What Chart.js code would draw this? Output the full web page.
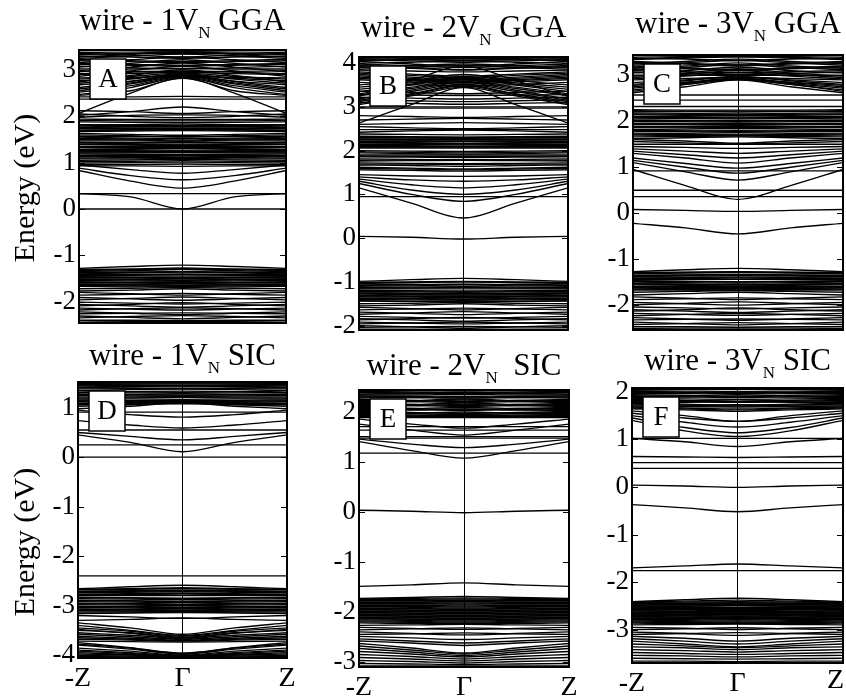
<!DOCTYPE html>
<html>
<head>
<meta charset="utf-8">
<script src="https://cdn.jsdelivr.net/npm/chart.js@4.4.1/dist/chart.umd.min.js"></script>
<style>
  html, body { margin: 0; padding: 0; background: #fff; overflow: hidden; }
  #wrap { position: relative; width: 846px; height: 697px; }
  #wrap canvas { position: absolute; }
</style>
</head>
<body>
<div id="wrap"></div>
<script>
// k-path: -Z -> Gamma -> Z
const kPoints = [-1, -0.5, 0, 0.5, 1];
const kLabels = { '-1': '-Z', '0': 'Γ', '1': 'Z' };

const titles = [
  ['wire - 1V', 'N', ' GGA'],
  ['wire - 2V', 'N', ' GGA'],
  ['wire - 3V', 'N', ' GGA'],
  ['wire - 1V', 'N', ' SIC'],
  ['wire - 2V', 'N', '  SIC'],
  ['wire - 3V', 'N', ' SIC']
];
const letters = ['A', 'B', 'C', 'D', 'E', 'F'];
const yLimits = [[-2.46, 3.43], [-2.1, 4.14], [-2.54, 3.44], [-4.06, 1.52], [-3.1, 2.43], [-3.7, 2.08]];

// each band: [E at Z, E halfway, E at Gamma] in eV (bands are symmetric about Gamma)
const bandsA = [
  [3.42, 3.41, 3.40], [3.38, 3.36, 3.35], [3.33, 3.36, 3.39], [3.30, 3.28, 3.25], [3.25, 3.30, 3.34],
  [3.20, 3.18, 3.16], [3.16, 3.22, 3.28], [3.12, 3.10, 3.08], [3.06, 3.14, 3.22], [3.02, 3.02, 3.03],
  [2.96, 3.06, 3.15], [2.92, 2.95, 2.98], [2.86, 2.98, 3.08], [2.80, 2.86, 2.93], [2.74, 2.88, 3.00],
  [2.68, 2.76, 2.88], [2.62, 2.75, 2.90], [2.55, 2.70, 2.86], [2.47, 2.62, 2.84],
  [3.36, 3.32, 3.28], [3.28, 3.33, 3.38], [3.23, 3.20, 3.18], [3.14, 3.12, 3.10], [3.08, 3.05, 3.02],
  [2.98, 2.97, 2.96], [2.90, 2.92, 2.95], [2.83, 2.84, 2.86], [2.77, 2.82, 2.90], [2.71, 2.80, 2.92],
  [2.59, 2.72, 2.88], [2.52, 2.66, 2.85], [2.45, 2.55, 2.83],
  [2.06, 2.50, 2.82], [2.42, 2.42, 2.43], [2.37, 2.37, 2.37],
  [2.02, 2.10, 2.20], [2.12, 2.10, 2.06], [1.98, 2.02, 2.03], [2.05, 2.00, 1.97], [1.94, 1.93, 1.93],
  [1.91, 1.90, 1.90], [1.88, 1.87, 1.86],
  [1.82, 1.82, 1.83], [1.79, 1.78, 1.78], [1.76, 1.75, 1.75], [1.73, 1.73, 1.72], [1.70, 1.71, 1.72], [1.67, 1.68, 1.69],
  [1.81, 1.80, 1.80], [1.75, 1.74, 1.74], [1.69, 1.70, 1.71],
  [1.63, 1.61, 1.59], [1.57, 1.56, 1.56], [1.52, 1.51, 1.49], [1.47, 1.47, 1.46],
  [1.60, 1.58, 1.55], [1.55, 1.53, 1.52], [1.50, 1.49, 1.47], [1.44, 1.43, 1.43],
  [1.42, 1.41, 1.40], [1.39, 1.38, 1.37], [1.35, 1.35, 1.35], [1.32, 1.31, 1.31], [1.28, 1.28, 1.27],
  [1.25, 1.24, 1.24], [1.21, 1.21, 1.22], [1.40, 1.39, 1.38], [1.33, 1.33, 1.32], [1.26, 1.26, 1.25], [1.23, 1.23, 1.23],
  [1.16, 1.16, 1.16], [1.10, 1.11, 1.11], [1.05, 1.06, 1.07], [0.99, 1.00, 1.01], [0.93, 0.93, 0.92],
  [1.19, 1.18, 1.18], [1.13, 1.13, 1.14], [1.08, 1.08, 1.09], [1.02, 1.03, 1.04], [0.96, 0.96, 0.97],
  [0.95, 0.85, 0.77], [0.88, 0.72, 0.63], [0.83, 0.60, 0.45],
  [0.33, 0.26, 0.00], [0.33, 0.33, 0.33], [0.00, 0.00, 0.00],
  [-1.28, -1.24, -1.21], [-1.30, -1.30, -1.30], [-1.33, -1.30, -1.27], [-1.35, -1.33, -1.31], [-1.37, -1.36, -1.35],
  [-1.40, -1.38, -1.36], [-1.42, -1.41, -1.40], [-1.44, -1.44, -1.45], [-1.46, -1.47, -1.48], [-1.49, -1.49, -1.50],
  [-1.51, -1.52, -1.53], [-1.54, -1.55, -1.56], [-1.57, -1.58, -1.58], [-1.60, -1.60, -1.61], [-1.62, -1.63, -1.64],
  [-1.65, -1.66, -1.67],
  [-1.32, -1.31, -1.29], [-1.38, -1.37, -1.35], [-1.43, -1.42, -1.42], [-1.47, -1.48, -1.49], [-1.52, -1.53, -1.54],
  [-1.58, -1.59, -1.59], [-1.63, -1.64, -1.65], [-1.67, -1.68, -1.68],
  [-1.72, -1.71, -1.69], [-1.77, -1.75, -1.72], [-1.80, -1.83, -1.86], [-1.86, -1.84, -1.82], [-1.91, -1.94, -1.97],
  [-1.96, -1.93, -1.90], [-2.01, -2.03, -2.05], [-2.06, -2.09, -2.12], [-2.09, -2.06, -2.02], [-2.14, -2.16, -2.18],
  [-2.18, -2.15, -2.13], [-2.22, -2.25, -2.28], [-2.26, -2.25, -2.24], [-2.31, -2.34, -2.37], [-2.35, -2.32, -2.30],
  [-2.40, -2.40, -2.41], [-2.44, -2.43, -2.43]
];

const bandsB = [
  [4.12, 4.11, 4.10], [4.08, 4.05, 4.02], [4.04, 3.98, 3.93], [4.00, 4.02, 4.05], [3.95, 3.90, 3.85],
  [3.90, 3.94, 3.98], [3.84, 3.82, 3.80], [3.24, 3.60, 3.93], [2.63, 3.05, 3.44],
  [4.10, 4.08, 4.06], [4.06, 4.08, 4.10], [3.98, 3.94, 3.90], [3.92, 3.88, 3.84], [3.86, 3.90, 3.95],
  [3.80, 3.75, 3.70], [3.74, 3.68, 3.62], [3.68, 3.62, 3.56], [3.62, 3.57, 3.52], [3.56, 3.51, 3.47],
  [3.77, 3.72, 3.66], [3.71, 3.65, 3.59], [3.65, 3.60, 3.55],
  [3.05, 3.25, 3.45], [3.12, 3.30, 3.50], [3.18, 3.38, 3.56], [3.30, 3.45, 3.62], [3.40, 3.52, 3.68],
  [3.50, 3.60, 3.74], [3.36, 3.33, 3.30], [3.22, 3.20, 3.18], [3.10, 3.08, 3.06],
  [3.45, 3.55, 3.66], [3.35, 3.50, 3.64], [3.26, 3.42, 3.58], [3.15, 3.35, 3.52], [3.08, 3.28, 3.48],
  [3.28, 3.27, 3.26], [3.16, 3.14, 3.12],
  [3.00, 3.00, 3.00], [2.97, 2.97, 2.97],
  [2.80, 2.78, 2.76], [2.70, 2.72, 2.74], [2.60, 2.62, 2.64], [2.55, 2.52, 2.50], [2.48, 2.48, 2.48],
  [2.42, 2.45, 2.47], [2.38, 2.37, 2.36],
  [2.33, 2.32, 2.31], [2.30, 2.29, 2.28], [2.27, 2.27, 2.26], [2.24, 2.24, 2.25], [2.21, 2.22, 2.22],
  [2.18, 2.19, 2.20], [2.15, 2.16, 2.16], [2.12, 2.12, 2.13], [2.09, 2.09, 2.10], [2.06, 2.06, 2.06],
  [2.32, 2.31, 2.30], [2.26, 2.25, 2.25], [2.20, 2.20, 2.21], [2.14, 2.14, 2.15], [2.08, 2.08, 2.08],
  [2.00, 1.99, 1.98], [1.95, 1.93, 1.92], [1.90, 1.90, 1.90], [1.86, 1.85, 1.84], [1.81, 1.80, 1.79],
  [1.76, 1.77, 1.78], [1.72, 1.71, 1.70], [1.67, 1.66, 1.64], [1.62, 1.60, 1.58], [1.56, 1.55, 1.53],
  [1.97, 1.96, 1.95], [1.88, 1.87, 1.87], [1.78, 1.79, 1.79], [1.69, 1.69, 1.68], [1.59, 1.58, 1.56],
  [1.45, 1.42, 1.41], [1.40, 1.33, 1.30], [1.35, 1.22, 1.15], [1.30, 1.10, 1.00], [1.25, 1.00, 0.84],
  [1.15, 0.80, 0.46], [0.95, 0.95, 0.95], [0.04, 0.02, -0.02],
  [-0.99, -0.95, -0.92], [-1.01, -1.00, -0.99], [-1.04, -1.02, -1.00], [-1.07, -1.06, -1.05], [-1.10, -1.09, -1.07],
  [-1.13, -1.12, -1.11], [-1.16, -1.16, -1.16], [-1.19, -1.20, -1.21], [-1.22, -1.23, -1.24], [-1.25, -1.26, -1.27],
  [-1.28, -1.29, -1.30], [-1.31, -1.32, -1.32], [-1.34, -1.35, -1.36], [-1.37, -1.38, -1.39], [-1.40, -1.41, -1.42],
  [-1.43, -1.44, -1.45],
  [-1.02, -1.01, -1.00], [-1.08, -1.07, -1.06], [-1.14, -1.14, -1.13], [-1.20, -1.21, -1.21], [-1.26, -1.27, -1.28],
  [-1.32, -1.33, -1.34], [-1.38, -1.39, -1.40], [-1.44, -1.45, -1.46],
  [-1.50, -1.49, -1.47], [-1.55, -1.53, -1.50], [-1.58, -1.61, -1.64], [-1.64, -1.62, -1.60], [-1.69, -1.72, -1.75],
  [-1.74, -1.71, -1.68], [-1.79, -1.81, -1.83], [-1.84, -1.87, -1.90], [-1.87, -1.84, -1.81], [-1.92, -1.94, -1.96],
  [-1.96, -1.94, -1.92], [-2.00, -2.03, -2.06], [-2.04, -2.03, -2.02], [-2.08, -2.08, -2.09]
];

const bandsC = [
  [3.42, 3.41, 3.40], [3.38, 3.35, 3.32], [3.34, 3.37, 3.40], [3.30, 3.26, 3.22], [3.25, 3.30, 3.35],
  [3.20, 3.16, 3.12], [3.15, 3.20, 3.27], [3.10, 3.08, 3.05], [3.05, 3.10, 3.18], [3.00, 3.00, 3.00],
  [2.95, 3.02, 3.10], [2.90, 2.93, 2.96], [2.84, 2.90, 2.95], [2.78, 2.85, 2.92], [2.72, 2.82, 2.93],
  [2.65, 2.80, 2.90],
  [3.44, 3.43, 3.42], [3.36, 3.39, 3.42], [3.28, 3.24, 3.20], [3.22, 3.27, 3.32], [3.17, 3.14, 3.10],
  [3.12, 3.17, 3.23], [3.07, 3.04, 3.01], [2.98, 3.05, 3.14], [2.92, 2.98, 3.06], [2.80, 2.88, 2.98],
  [2.75, 2.84, 2.94], [2.68, 2.80, 2.91], [2.62, 2.75, 2.90],
  [2.57, 2.57, 2.57], [2.46, 2.46, 2.46], [2.32, 2.32, 2.32],
  [2.25, 2.24, 2.24], [2.21, 2.21, 2.20], [2.18, 2.17, 2.16], [2.14, 2.13, 2.12], [2.10, 2.10, 2.09],
  [2.07, 2.06, 2.05], [2.03, 2.02, 2.02], [2.00, 1.99, 1.98], [1.96, 1.95, 1.95], [1.93, 1.92, 1.91],
  [1.89, 1.88, 1.88], [1.86, 1.85, 1.84], [1.82, 1.81, 1.80], [1.78, 1.77, 1.76], [1.74, 1.73, 1.72],
  [1.70, 1.69, 1.68], [1.66, 1.67, 1.68], [1.62, 1.64, 1.66], [1.60, 1.57, 1.52], [1.56, 1.53, 1.50],
  [2.23, 2.22, 2.22], [2.16, 2.15, 2.14], [2.08, 2.08, 2.07], [2.01, 2.01, 2.00], [1.94, 1.94, 1.93],
  [1.87, 1.87, 1.86], [1.80, 1.79, 1.78], [1.72, 1.71, 1.70],
  [1.50, 1.50, 1.50], [1.45, 1.43, 1.41], [1.40, 1.35, 1.30], [1.35, 1.27, 1.20], [1.30, 1.20, 1.09],
  [1.20, 1.08, 0.98], [1.15, 1.00, 0.87], [1.10, 0.90, 0.72], [0.92, 0.92, 0.92], [0.95, 0.60, 0.30],
  [0.50, 0.50, 0.50], [0.36, 0.36, 0.36], [0.08, 0.06, 0.04], [-0.22, -0.32, -0.45],
  [-1.27, -1.23, -1.20], [-1.29, -1.28, -1.27], [-1.32, -1.30, -1.29], [-1.35, -1.34, -1.33], [-1.38, -1.37, -1.36],
  [-1.41, -1.40, -1.39], [-1.44, -1.44, -1.44], [-1.47, -1.48, -1.49], [-1.50, -1.51, -1.52], [-1.53, -1.54, -1.55],
  [-1.56, -1.57, -1.58], [-1.59, -1.60, -1.60], [-1.62, -1.63, -1.64], [-1.65, -1.66, -1.67],
  [-1.30, -1.29, -1.28], [-1.36, -1.35, -1.34], [-1.42, -1.42, -1.41], [-1.48, -1.49, -1.50], [-1.54, -1.55, -1.56],
  [-1.60, -1.61, -1.62], [-1.63, -1.64, -1.65], [-1.67, -1.67, -1.68],
  [-1.72, -1.70, -1.68], [-1.78, -1.75, -1.72], [-1.82, -1.85, -1.88], [-1.88, -1.86, -1.84], [-1.94, -1.97, -2.00],
  [-1.99, -1.96, -1.93], [-2.04, -2.06, -2.08], [-2.10, -2.13, -2.16], [-2.13, -2.10, -2.06], [-2.18, -2.20, -2.22],
  [-2.23, -2.20, -2.18], [-2.27, -2.30, -2.33], [-2.32, -2.31, -2.30], [-2.37, -2.40, -2.43], [-2.42, -2.40, -2.38],
  [-2.47, -2.47, -2.48], [-2.51, -2.50, -2.50]
];

const bandsD = [
  [1.50, 1.50, 1.50], [1.47, 1.46, 1.45], [1.44, 1.43, 1.42], [1.41, 1.40, 1.39], [1.38, 1.37, 1.36],
  [1.35, 1.33, 1.32], [1.31, 1.30, 1.29], [1.28, 1.27, 1.26], [1.25, 1.24, 1.23], [1.20, 1.20, 1.21],
  [1.16, 1.15, 1.15], [1.12, 1.11, 1.11], [1.06, 1.07, 1.08], [0.98, 1.03, 1.10], [0.91, 0.91, 0.91],
  [1.49, 1.48, 1.48], [1.46, 1.45, 1.44], [1.40, 1.39, 1.38], [1.34, 1.32, 1.31], [1.27, 1.26, 1.25],
  [1.22, 1.22, 1.22], [1.18, 1.18, 1.17], [1.14, 1.13, 1.13], [1.09, 1.09, 1.09], [1.03, 1.06, 1.10],
  [0.95, 0.86, 0.81], [0.74, 0.65, 0.59], [0.55, 0.55, 0.55], [0.50, 0.42, 0.35], [0.45, 0.30, 0.11],
  [0.25, 0.25, 0.25], [0.00, 0.00, 0.00],
  [-2.40, -2.40, -2.40],
  [-2.66, -2.62, -2.59], [-2.68, -2.67, -2.66], [-2.71, -2.70, -2.69], [-2.74, -2.73, -2.72], [-2.77, -2.76, -2.75],
  [-2.80, -2.80, -2.80], [-2.83, -2.84, -2.85], [-2.86, -2.87, -2.88], [-2.89, -2.90, -2.91], [-2.92, -2.93, -2.94],
  [-2.95, -2.96, -2.97], [-2.98, -2.99, -3.00], [-3.01, -3.02, -3.03], [-3.04, -3.05, -3.06], [-3.07, -3.08, -3.09],
  [-3.10, -3.11, -3.12],
  [-2.67, -2.66, -2.64], [-2.72, -2.71, -2.70], [-2.78, -2.78, -2.77], [-2.84, -2.85, -2.86], [-2.90, -2.91, -2.92],
  [-2.96, -2.97, -2.98], [-3.02, -3.03, -3.04], [-3.08, -3.09, -3.10],
  [-3.16, -3.15, -3.14], [-3.20, -3.23, -3.26], [-3.30, -3.28, -3.25], [-3.35, -3.45, -3.58], [-3.40, -3.50, -3.60],
  [-3.45, -3.52, -3.62], [-3.50, -3.55, -3.64], [-3.55, -3.60, -3.66], [-3.62, -3.66, -3.70], [-3.68, -3.70, -3.72],
  [-3.75, -3.85, -3.96], [-3.80, -3.88, -3.98], [-3.86, -3.92, -4.00], [-3.92, -3.97, -4.02], [-3.98, -4.00, -4.03],
  [-4.03, -4.04, -4.05],
  [-3.13, -3.13, -3.13], [-3.48, -3.56, -3.65], [-3.58, -3.63, -3.68], [-3.65, -3.68, -3.71], [-3.72, -3.73, -3.74],
  [-3.78, -3.86, -3.97], [-3.90, -3.95, -4.01], [-3.95, -3.99, -4.02], [-4.01, -4.02, -4.04], [-4.05, -4.05, -4.06]
];

const bandsE = [
  [2.42, 2.42, 2.41], [2.38, 2.37, 2.36], [2.35, 2.36, 2.37], [2.31, 2.30, 2.29], [2.27, 2.28, 2.30],
  [2.24, 2.22, 2.20], [2.20, 2.22, 2.25], [2.16, 2.14, 2.12], [2.12, 2.14, 2.17], [2.08, 2.06, 2.04],
  [2.04, 2.06, 2.08], [2.00, 1.98, 1.96], [1.96, 1.97, 1.99], [1.92, 1.91, 1.90], [1.88, 1.88, 1.88],
  [2.40, 2.39, 2.38], [2.33, 2.33, 2.34], [2.29, 2.28, 2.27], [2.22, 2.20, 2.18], [2.18, 2.20, 2.23],
  [2.14, 2.12, 2.10], [2.10, 2.12, 2.14], [2.06, 2.04, 2.02], [2.02, 2.03, 2.05], [1.98, 1.96, 1.94],
  [1.94, 1.93, 1.92], [1.90, 1.90, 1.89],
  [1.85, 1.75, 1.67], [1.75, 1.63, 1.53], [1.70, 1.70, 1.70], [1.63, 1.63, 1.63], [1.50, 1.50, 1.50],
  [1.47, 1.47, 1.47], [1.45, 1.35, 1.28], [1.40, 1.22, 1.07], [1.17, 1.17, 1.17],
  [0.03, 0.01, -0.02], [-1.49, -1.46, -1.42],
  [-1.73, -1.71, -1.69], [-1.75, -1.75, -1.74], [-1.78, -1.78, -1.77], [-1.81, -1.81, -1.80], [-1.84, -1.84, -1.84],
  [-1.87, -1.87, -1.88], [-1.90, -1.91, -1.92], [-1.93, -1.94, -1.95], [-1.96, -1.97, -1.98], [-1.99, -2.00, -2.01],
  [-2.02, -2.03, -2.04], [-2.05, -2.06, -2.07], [-2.08, -2.09, -2.10], [-2.11, -2.12, -2.13], [-2.14, -2.15, -2.16],
  [-2.18, -2.19, -2.20], [-2.22, -2.23, -2.23],
  [-1.74, -1.73, -1.72], [-1.77, -1.77, -1.76], [-1.80, -1.80, -1.79], [-1.83, -1.83, -1.82], [-1.86, -1.86, -1.86],
  [-1.89, -1.89, -1.90], [-1.92, -1.93, -1.94], [-1.95, -1.96, -1.97], [-1.98, -1.99, -2.00], [-2.01, -2.02, -2.03],
  [-2.04, -2.05, -2.06], [-2.07, -2.08, -2.09], [-2.10, -2.11, -2.12], [-2.13, -2.14, -2.15], [-2.16, -2.17, -2.18],
  [-2.20, -2.21, -2.22],
  [-2.27, -2.26, -2.25], [-2.31, -2.33, -2.35], [-2.36, -2.34, -2.32], [-2.40, -2.43, -2.46], [-2.45, -2.44, -2.42],
  [-2.49, -2.52, -2.55], [-2.54, -2.58, -2.62], [-2.58, -2.62, -2.67], [-2.63, -2.72, -2.82], [-2.68, -2.76, -2.84],
  [-2.73, -2.80, -2.87], [-2.79, -2.84, -2.90], [-2.85, -2.89, -2.94], [-2.91, -2.94, -2.98], [-2.97, -2.99, -3.02],
  [-3.03, -3.04, -3.05], [-3.08, -3.08, -3.08]
];

const bandsF = [
  [2.07, 2.06, 2.05], [2.03, 2.04, 2.05], [2.00, 1.98, 1.96], [1.96, 1.97, 1.99], [1.92, 1.90, 1.88],
  [1.88, 1.89, 1.91], [1.84, 1.82, 1.80], [1.80, 1.81, 1.83], [1.76, 1.74, 1.72], [1.72, 1.72, 1.73],
  [1.68, 1.66, 1.64], [1.64, 1.62, 1.59],
  [2.05, 2.05, 2.06], [2.01, 2.00, 1.99], [1.98, 1.99, 2.01], [1.94, 1.93, 1.91], [1.90, 1.92, 1.94],
  [1.86, 1.85, 1.84], [1.82, 1.80, 1.78], [1.78, 1.78, 1.79], [1.74, 1.72, 1.70], [1.70, 1.69, 1.68],
  [1.66, 1.64, 1.62],
  [1.60, 1.50, 1.38], [1.55, 1.45, 1.38], [1.50, 1.36, 1.26], [1.45, 1.25, 1.14], [1.40, 1.18, 1.06],
  [1.02, 0.95, 0.85], [1.02, 1.02, 1.02], [0.64, 0.63, 0.62], [0.51, 0.51, 0.51], [0.39, 0.39, 0.39],
  [0.04, 0.02, -0.01], [-0.37, -0.44, -0.52], [-1.70, -1.66, -1.62], [-1.76, -1.76, -1.76],
  [-2.41, -2.37, -2.34], [-2.43, -2.42, -2.41], [-2.46, -2.45, -2.44], [-2.49, -2.48, -2.47], [-2.52, -2.51, -2.50],
  [-2.55, -2.55, -2.55], [-2.58, -2.59, -2.60], [-2.61, -2.62, -2.63], [-2.64, -2.65, -2.66], [-2.67, -2.68, -2.69],
  [-2.70, -2.71, -2.72], [-2.73, -2.74, -2.75], [-2.76, -2.77, -2.78], [-2.80, -2.81, -2.82], [-2.84, -2.85, -2.86],
  [-2.42, -2.40, -2.38], [-2.45, -2.44, -2.43], [-2.48, -2.47, -2.46], [-2.51, -2.50, -2.49], [-2.54, -2.53, -2.53],
  [-2.57, -2.57, -2.58], [-2.60, -2.61, -2.62], [-2.63, -2.64, -2.65], [-2.66, -2.67, -2.68], [-2.69, -2.70, -2.71],
  [-2.72, -2.73, -2.74], [-2.75, -2.76, -2.77], [-2.78, -2.79, -2.80], [-2.82, -2.83, -2.84], [-2.86, -2.87, -2.87],
  [-2.90, -2.89, -2.88], [-2.95, -2.97, -3.00], [-3.00, -2.98, -2.96], [-3.05, -3.08, -3.12], [-3.10, -3.08, -3.06],
  [-3.14, -3.18, -3.24], [-3.19, -3.24, -3.30], [-3.24, -3.30, -3.36], [-3.30, -3.34, -3.38], [-3.36, -3.38, -3.42],
  [-3.42, -3.44, -3.47], [-3.48, -3.50, -3.52], [-3.54, -3.55, -3.57], [-3.60, -3.61, -3.62], [-3.66, -3.66, -3.67]
];

const allBands = [bandsA, bandsB, bandsC, bandsD, bandsE, bandsF];

// plot frames on the page (px)
const frames = [
  { x: 79,  y: 50,  w: 207, h: 273 },
  { x: 359, y: 57,  w: 209, h: 273 },
  { x: 633, y: 55,  w: 210, h: 275 },
  { x: 78,  y: 382, w: 209, h: 276 },
  { x: 359, y: 390, w: 210, h: 277 },
  { x: 632, y: 388, w: 211, h: 275 }
];
const titleGap = [20, 20, 22, 17, 15, 18];
const serif = '"Liberation Serif", "Times New Roman", serif';
const TOP = 50;
const LABEL_PAD = 4;

const decor = {
  id: 'decor',
  afterDraw(chart) {
    const o = chart.options.plugins.decor;
    const { ctx, chartArea: a } = chart;
    const ys = chart.scales.y;
    ctx.save();
    ctx.strokeStyle = '#000';
    ctx.fillStyle = '#000';

    // short inward tick marks on both sides
    ctx.lineWidth = 1;
    ys.ticks.forEach(t => {
      const py = Math.round(ys.getPixelForValue(t.value)) + 0.5;
      ctx.beginPath();
      ctx.moveTo(a.left, py); ctx.lineTo(a.left + 6, py);
      ctx.moveTo(a.right, py); ctx.lineTo(a.right - 6, py);
      ctx.stroke();
    });

    // frame
    ctx.lineWidth = 2;
    ctx.strokeRect(a.left, a.top, a.right - a.left, a.bottom - a.top);

    // last k label kept inside the page on the right-most panel
    if (o.rightLabel) {
      ctx.font = '28px ' + serif;
      ctx.textAlign = 'right';
      ctx.textBaseline = 'top';
      ctx.fillText(kLabels['1'], chart.scales.x.getPixelForValue(1) + 1, a.bottom + LABEL_PAD);
    }

    // panel letter
    const bx = a.left + 11, by = a.top + 9, bw = 36, bh = 40;
    ctx.fillStyle = '#fff';
    ctx.fillRect(bx, by, bw, bh);
    ctx.lineWidth = 1.5;
    ctx.strokeRect(bx, by, bw, bh);
    ctx.fillStyle = '#000';
    ctx.font = '27px ' + serif;
    ctx.textAlign = 'center';
    ctx.textBaseline = 'middle';
    ctx.fillText(o.letter, bx + bw / 2, by + bh / 2 + 1);

    // title with subscript
    const t = o.title;
    ctx.textAlign = 'left';
    ctx.textBaseline = 'alphabetic';
    ctx.font = '31px ' + serif;
    const w1 = ctx.measureText(t[0]).width, w3 = ctx.measureText(t[2]).width;
    ctx.font = '17px ' + serif;
    const w2 = ctx.measureText(t[1]).width;
    let x = (a.left + a.right) / 2 - (w1 + w2 + w3) / 2;
    const y = a.top - o.gap;
    ctx.font = '31px ' + serif; ctx.fillText(t[0], x, y); x += w1;
    ctx.font = '17px ' + serif; ctx.fillText(t[1], x, y + 8); x += w2;
    ctx.font = '31px ' + serif; ctx.fillText(t[2], x, y);

    // y-axis title on the left column
    if (o.axisTitle) {
      ctx.save();
      ctx.translate(26, o.axisTitleY);
      ctx.rotate(-Math.PI / 2);
      ctx.textAlign = 'center';
      ctx.textBaseline = 'middle';
      ctx.font = '30px ' + serif;
      ctx.fillText('Energy (eV)', 0, 0);
      ctx.restore();
    }
    ctx.restore();
  }
};

const wrap = document.getElementById('wrap');

allBands.forEach((bands, i) => {
  const f = frames[i];
  const leftCol = i % 3 === 0;
  const bottomRow = i >= 3;
  const rightLabel = i === 5;
  const axisW = leftCol ? f.x : 62;
  const bottomH = bottomRow ? 40 : 4;
  const padRight = 12;

  const canvas = document.createElement('canvas');
  const cw = axisW + f.w + padRight;
  const ch = TOP + f.h + bottomH;
  canvas.width = cw; canvas.height = ch;
  canvas.style.left = (f.x - axisW) + 'px';
  canvas.style.top = (f.y - TOP) + 'px';
  canvas.style.width = cw + 'px';
  canvas.style.height = ch + 'px';
  wrap.appendChild(canvas);

  const datasets = bands.map(b => ({
    data: [b[0], b[1], b[2], b[1], b[0]].map((e, j) => ({ x: kPoints[j], y: e })),
    borderColor: '#000',
    borderWidth: 1.35,
    pointRadius: 0,
    fill: false,
    cubicInterpolationMode: 'monotone'
  }));

  // page y of the rotated axis title, converted to canvas space
  const axisTitleY = (i === 0 ? 188 : 542) - (f.y - TOP);

  new Chart(canvas.getContext('2d'), {
    type: 'line',
    data: { datasets },
    plugins: [decor],
    options: {
      responsive: false,
      animation: false,
      devicePixelRatio: 1,
      layout: { padding: { top: TOP, right: padRight, left: 0, bottom: 0 } },
      plugins: {
        legend: { display: false },
        tooltip: { enabled: false },
        decor: {
          letter: letters[i], title: titles[i], gap: titleGap[i],
          axisTitle: leftCol, axisTitleY, rightLabel
        }
      },
      scales: {
        x: {
          type: 'linear',
          min: -1, max: 1,
          ticks: {
            display: bottomRow,
            stepSize: 1,
            padding: LABEL_PAD,
            color: '#000',
            font: { family: serif, size: 28 },
            callback: v => (rightLabel && v === 1 ? '' : kLabels[String(v)] || '')
          },
          grid: {
            drawTicks: false,
            lineWidth: 1,
            color: c => (c.tick && c.tick.value === 0 ? '#000' : 'rgba(0,0,0,0)')
          },
          border: { display: false },
          afterFit(s) { s.height = bottomH; s.paddingLeft = 0; s.paddingRight = 0; }
        },
        y: {
          min: yLimits[i][0], max: yLimits[i][1],
          ticks: {
            stepSize: 1,
            includeBounds: false,
            padding: 3,
            color: '#000',
            font: { family: serif, size: 27 }
          },
          grid: { display: false, drawTicks: false },
          border: { display: false },
          afterFit(s) { s.width = axisW; s.paddingTop = 0; s.paddingBottom = 0; }
        }
      }
    }
  });
});
</script>
</body>
</html>
